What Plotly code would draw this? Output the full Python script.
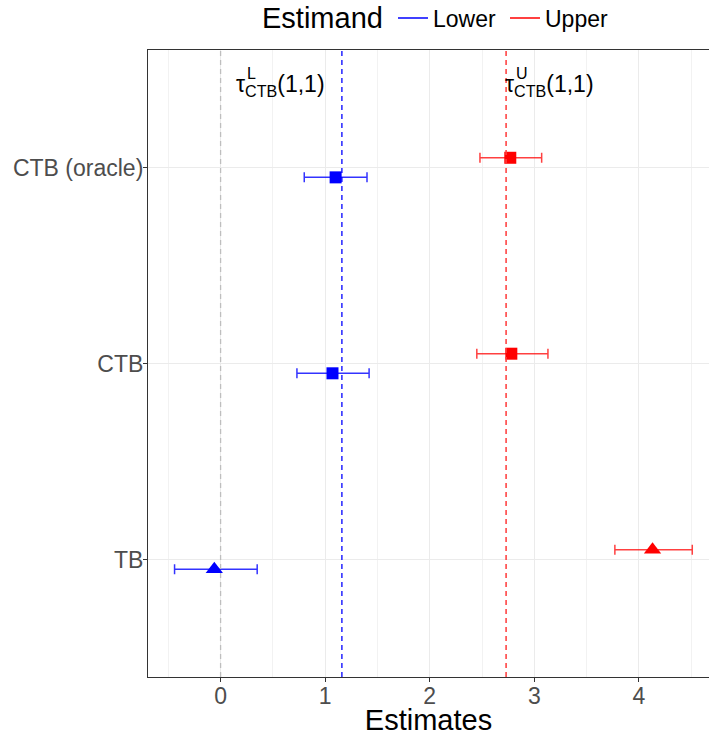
import plotly.graph_objects as go

# ---- data ----
methods = ["TB", "CTB", "CTB (oracle)"]
method_symbols = ["triangle-up", "square", "square"]

lower_est = [-0.06, 1.07, 1.10]
lower_lo = [-0.44, 0.73, 0.80]
lower_hi = [0.35, 1.42, 1.40]

upper_est = [4.13, 2.78, 2.77]
upper_lo = [3.77, 2.45, 2.48]
upper_hi = [4.51, 3.13, 3.07]

ref_lower = 1.16
ref_upper = 2.73
ref_zero = 0

x_ticks = [0, 1, 2, 3, 4]

FONT = "Liberation Sans, Arial, sans-serif"
dodge = 0.05
ypos = list(range(1, len(methods) + 1))

fig = go.Figure()

def add_series(name, est, lo, hi, color, bar_color, offset):
    ys = [y + offset for y in ypos]
    fig.add_trace(go.Scatter(
        x=est, y=ys, mode="markers", name=name, showlegend=False,
        marker=dict(color=color, symbol=method_symbols, size=[15, 12, 12],
                    opacity=1, line=dict(width=0)),
        error_x=dict(type="data", symmetric=False,
                     array=[h - e for h, e in zip(hi, est)],
                     arrayminus=[e - l for e, l in zip(est, lo)],
                     color=bar_color, thickness=1.5, width=5),
    ))

add_series("Lower", lower_est, lower_lo, lower_hi, "#0000FF", "rgba(0,0,255,0.8)", -dodge)
add_series("Upper", upper_est, upper_lo, upper_hi, "#FF0000", "rgba(255,0,0,0.75)", dodge)

# legend entries (lines only)
fig.add_trace(go.Scatter(x=[None], y=[None], mode="lines", name="Lower",
                         line=dict(color="#0000FF", width=1.5)))
fig.add_trace(go.Scatter(x=[None], y=[None], mode="lines", name="Upper",
                         line=dict(color="#FF0000", width=1.5)))

# reference lines
fig.add_vline(x=ref_zero, line=dict(color="#BEBEBE", width=1.3, dash="5px,4px"))
fig.add_vline(x=ref_lower, line=dict(color="#0000FF", width=1.3, dash="5px,4px"))
fig.add_vline(x=ref_upper, line=dict(color="rgba(255,60,60,0.85)", width=1.8, dash="5px,4px"))

# annotations tau
def tau_label(x_left, sup, y_main):
    fig.add_annotation(x=x_left, y=y_main, xref="x", yref="y", xanchor="left", yanchor="middle",
                       text="τ<sub>CTB</sub>(1,1)", showarrow=False,
                       font=dict(family=FONT, size=23, color="black"))
    fig.add_annotation(x=x_left, y=y_main, xref="x", yref="y", xanchor="left", yanchor="middle",
                       text=sup, showarrow=False, xshift=11, yshift=12,
                       font=dict(family=FONT, size=16, color="black"))

tau_label(0.13, "L", 3.42)
tau_label(2.70, "U", 3.42)

# legend title as annotation (aligned with the entries)
fig.add_annotation(x=0.4225, y=1.051, xref="paper", yref="paper", xanchor="right", yanchor="middle",
                   text="Estimand", showarrow=False,
                   font=dict(family=FONT, size=29, color="black"))

fig.update_layout(
    width=709, height=736,
    margin=dict(l=148, r=0, t=50, b=59, autoexpand=False),
    paper_bgcolor="white", plot_bgcolor="white",
    font=dict(family=FONT, color="black"),
    legend=dict(orientation="h", x=0.4367, xanchor="left", y=1.051, yanchor="middle",
                font=dict(size=23, family=FONT), itemwidth=30, entrywidth=67,
                bgcolor="rgba(0,0,0,0)"),
    showlegend=True,
)

fig.update_xaxes(
    range=[-0.694, 4.67], tickvals=x_ticks, ticktext=[str(t) for t in x_ticks],
    showgrid=True, gridcolor="#EBEBEB", gridwidth=1,
    minor=dict(dtick=0.5, tick0=0.5, showgrid=True, gridcolor="#F2F2F2", gridwidth=0.8),
    showline=True, linecolor="#333333", linewidth=1.2, mirror=True,
    ticks="outside", ticklen=4, tickcolor="#333333", tickwidth=1,
    ticklabelstandoff=-6,
    tickfont=dict(size=23, color="#4D4D4D", family=FONT),
    title=dict(text="Estimates", font=dict(size=29, color="black", family=FONT), standoff=3),
    zeroline=False,
)
fig.update_yaxes(
    range=[0.4, 3.6], tickvals=ypos, ticktext=methods,
    showgrid=True, gridcolor="#EBEBEB", gridwidth=1,
    showline=True, linecolor="#333333", linewidth=1.2, mirror=False,
    ticks="outside", ticklen=4, tickcolor="#333333", tickwidth=1,
    ticklabelstandoff=-5,
    tickfont=dict(size=23, color="#4D4D4D", family=FONT),
    zeroline=False,
)

fig.write_html("out.html")
